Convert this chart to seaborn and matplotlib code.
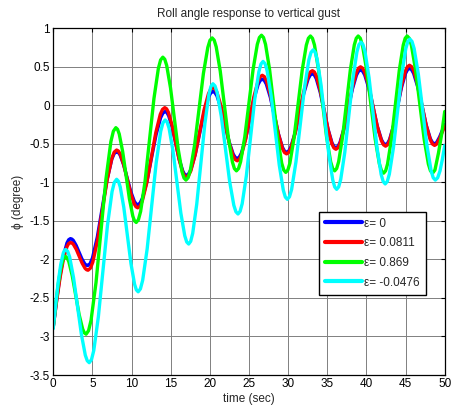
import matplotlib
matplotlib.use("Agg")
import matplotlib.pyplot as plt
import pandas as pd
import seaborn as sns

# Roll angle phi (degree) versus time (sec) for four values of epsilon
labels = ["\u03b5= 0", "\u03b5= 0.0811", "\u03b5= 0.869", "\u03b5= -0.0476"]
colors = ["#0000ff", "#ff0000", "#00ff00", "#00ffff"]

t_eps0 = [0, 0.44, 0.88, 1.32, 1.76, 1.98, 2.2,
          2.383, 2.567, 2.933, 3.3, 3.667, 4.033, 4.217, 4.4,
          4.708, 5.017, 5.633, 6.25, 6.867, 7.483, 7.792, 8.1,
          8.325, 8.55, 9.0, 9.45, 9.9, 10.35, 10.575, 10.8,
          11.092, 11.383, 11.967, 12.55, 13.133, 13.717, 14.008, 14.3,
          14.525, 14.75, 15.2, 15.65, 16.1, 16.55, 16.775, 17.0,
          17.283, 17.567, 18.133, 18.7, 19.267, 19.833, 20.117, 20.4,
          20.658, 20.917, 21.433, 21.95, 22.467, 22.983, 23.242, 23.5,
          23.767, 24.033, 24.567, 25.1, 25.633, 26.167, 26.433, 26.7,
          26.958, 27.217, 27.733, 28.25, 28.767, 29.283, 29.542, 29.8,
          30.075, 30.35, 30.9, 31.45, 32.0, 32.55, 32.825, 33.1,
          33.35, 33.6, 34.1, 34.6, 35.1, 35.6, 35.85, 36.1,
          36.363, 36.625, 37.15, 37.675, 38.2, 38.725, 38.988, 39.25,
          39.517, 39.783, 40.317, 40.85, 41.383, 41.917, 42.183, 42.45,
          42.704, 42.958, 43.467, 43.975, 44.483, 44.992, 45.246, 45.5,
          45.767, 46.033, 46.567, 47.1, 47.633, 48.167, 48.433, 48.7,
          48.95, 49.35, 50.0]
phi_eps0 = [-2.88, -2.525, -2.204, -1.950, -1.786, -1.744, -1.73,
            -1.736, -1.753, -1.818, -1.905, -1.993, -2.057, -2.074, -2.08,
            -2.055, -1.981, -1.71, -1.34, -0.97, -0.699, -0.625, -0.60,
            -0.612, -0.646, -0.773, -0.945, -1.118, -1.244, -1.278, -1.29,
            -1.269, -1.209, -0.988, -0.685, -0.383, -0.161, -0.101, -0.08,
            -0.094, -0.136, -0.288, -0.495, -0.703, -0.854, -0.896, -0.91,
            -0.891, -0.837, -0.638, -0.365, -0.093, 0.107, 0.161, 0.18,
            0.165, 0.122, -0.038, -0.255, -0.473, -0.632, -0.675, -0.69,
            -0.672, -0.621, -0.433, -0.175, 0.083, 0.271, 0.322, 0.34,
            0.324, 0.276, 0.103, -0.135, -0.373, -0.546, -0.594, -0.61,
            -0.593, -0.542, -0.355, -0.10, 0.155, 0.342, 0.393, 0.41,
            0.394, 0.346, 0.17, -0.07, -0.31, -0.486, -0.534, -0.55,
            -0.533, -0.482, -0.298, -0.045, 0.208, 0.392, 0.443, 0.46,
            0.444, 0.395, 0.218, -0.025, -0.268, -0.445, -0.494, -0.51,
            -0.493, -0.444, -0.263, -0.015, 0.233, 0.414, 0.463, 0.48,
            0.463, 0.414, 0.235, -0.01, -0.255, -0.434, -0.483, -0.50,
            -0.485, -0.41, -0.25]

t_eps1 = [0, 0.44, 0.88, 1.32, 1.76, 1.98, 2.2,
          2.388, 2.575, 2.95, 3.325, 3.7, 4.075, 4.263, 4.45,
          4.754, 5.058, 5.667, 6.275, 6.883, 7.492, 7.796, 8.1,
          8.325, 8.55, 9.0, 9.45, 9.9, 10.35, 10.575, 10.8,
          11.088, 11.375, 11.95, 12.525, 13.1, 13.675, 13.963, 14.25,
          14.479, 14.708, 15.167, 15.625, 16.083, 16.542, 16.771, 17.0,
          17.283, 17.567, 18.133, 18.7, 19.267, 19.833, 20.117, 20.4,
          20.658, 20.917, 21.433, 21.95, 22.467, 22.983, 23.242, 23.5,
          23.767, 24.033, 24.567, 25.1, 25.633, 26.167, 26.433, 26.7,
          26.958, 27.217, 27.733, 28.25, 28.767, 29.283, 29.542, 29.8,
          30.075, 30.35, 30.9, 31.45, 32.0, 32.55, 32.825, 33.1,
          33.35, 33.6, 34.1, 34.6, 35.1, 35.6, 35.85, 36.1,
          36.363, 36.625, 37.15, 37.675, 38.2, 38.725, 38.988, 39.25,
          39.517, 39.783, 40.317, 40.85, 41.383, 41.917, 42.183, 42.45,
          42.704, 42.958, 43.467, 43.975, 44.483, 44.992, 45.246, 45.5,
          45.767, 46.033, 46.567, 47.1, 47.633, 48.167, 48.433, 48.7,
          48.95, 49.35, 50.0]
phi_eps1 = [-2.88, -2.540, -2.233, -1.990, -1.834, -1.793, -1.78,
            -1.786, -1.804, -1.87, -1.96, -2.05, -2.116, -2.134, -2.14,
            -2.113, -2.035, -1.75, -1.36, -0.97, -0.685, -0.607, -0.58,
            -0.593, -0.630, -0.768, -0.955, -1.143, -1.28, -1.317, -1.33,
            -1.308, -1.243, -1.005, -0.68, -0.355, -0.117, -0.052, -0.03,
            -0.045, -0.09, -0.255, -0.48, -0.705, -0.87, -0.915, -0.93,
            -0.91, -0.852, -0.64, -0.35, -0.06, 0.152, 0.21, 0.23,
            0.214, 0.166, -0.008, -0.245, -0.483, -0.656, -0.704, -0.72,
            -0.701, -0.646, -0.443, -0.165, 0.113, 0.316, 0.371, 0.39,
            0.373, 0.322, 0.135, -0.12, -0.375, -0.562, -0.613, -0.63,
            -0.612, -0.558, -0.36, -0.09, 0.18, 0.378, 0.432, 0.45,
            0.433, 0.382, 0.195, -0.06, -0.315, -0.502, -0.553, -0.57,
            -0.552, -0.498, -0.303, -0.035, 0.233, 0.427, 0.482, 0.50,
            0.482, 0.431, 0.243, -0.015, -0.273, -0.46, -0.512, -0.53,
            -0.512, -0.46, -0.268, -0.005, 0.258, 0.45, 0.502, 0.52,
            0.502, 0.45, 0.26, 0.0, -0.26, -0.45, -0.502, -0.52,
            -0.505, -0.43, -0.27]

t_eps2 = [0, 0.31, 0.62, 0.93, 1.24, 1.395, 1.55,
          1.771, 1.992, 2.433, 2.875, 3.317, 3.758, 3.979, 4.2,
          4.517, 4.833, 5.467, 6.1, 6.733, 7.367, 7.683, 8.0,
          8.217, 8.433, 8.867, 9.3, 9.733, 10.167, 10.383, 10.6,
          10.883, 11.167, 11.733, 12.3, 12.867, 13.433, 13.717, 14.0,
          14.246, 14.492, 14.983, 15.475, 15.967, 16.458, 16.704, 16.95,
          17.229, 17.508, 18.067, 18.625, 19.183, 19.742, 20.021, 20.3,
          20.558, 20.817, 21.333, 21.85, 22.367, 22.883, 23.142, 23.4,
          23.667, 23.933, 24.467, 25.0, 25.533, 26.067, 26.333, 26.6,
          26.858, 27.117, 27.633, 28.15, 28.667, 29.183, 29.442, 29.7,
          29.963, 30.225, 30.75, 31.275, 31.8, 32.325, 32.588, 32.85,
          33.108, 33.367, 33.883, 34.4, 34.917, 35.433, 35.692, 35.95,
          36.2, 36.45, 36.95, 37.45, 37.95, 38.45, 38.7, 38.95,
          39.221, 39.492, 40.033, 40.575, 41.117, 41.658, 41.929, 42.2,
          42.45, 42.7, 43.2, 43.7, 44.2, 44.7, 44.95, 45.2,
          45.471, 45.742, 46.283, 46.825, 47.367, 47.908, 48.179, 48.45,
          48.75, 49.2, 49.6, 50.0]
phi_eps2 = [-2.88, -2.596, -2.339, -2.136, -2.005, -1.971, -1.96,
            -1.977, -2.028, -2.213, -2.465, -2.718, -2.902, -2.953, -2.97,
            -2.924, -2.79, -2.30, -1.63, -0.96, -0.47, -0.336, -0.29,
            -0.311, -0.372, -0.598, -0.905, -1.213, -1.438, -1.499, -1.52,
            -1.484, -1.376, -0.984, -0.448, 0.089, 0.481, 0.589, 0.625,
            0.598, 0.518, 0.226, -0.173, -0.571, -0.863, -0.943, -0.97,
            -0.939, -0.846, -0.509, -0.048, 0.414, 0.75, 0.844, 0.875,
            0.846, 0.759, 0.444, 0.013, -0.419, -0.734, -0.821, -0.85,
            -0.82, -0.732, -0.41, 0.03, 0.47, 0.792, 0.88, 0.91,
            0.88, 0.791, 0.465, 0.02, -0.425, -0.751, -0.84, -0.87,
            -0.84, -0.751, -0.428, 0.015, 0.458, 0.781, 0.87, 0.90,
            0.87, 0.783, 0.463, 0.025, -0.413, -0.733, -0.82, -0.85,
            -0.82, -0.733, -0.413, 0.025, 0.463, 0.783, 0.87, 0.90,
            0.87, 0.781, 0.455, 0.01, -0.435, -0.761, -0.85, -0.88,
            -0.85, -0.761, -0.435, 0.01, 0.455, 0.781, 0.87, 0.90,
            0.87, 0.781, 0.455, 0.01, -0.435, -0.761, -0.85, -0.88,
            -0.84, -0.62, -0.38, -0.08]

t_eps3 = [0, 0.32, 0.64, 0.96, 1.28, 1.44, 1.6,
          1.85, 2.1, 2.6, 3.1, 3.6, 4.1, 4.35, 4.6,
          4.892, 5.183, 5.767, 6.35, 6.933, 7.517, 7.808, 8.1,
          8.329, 8.558, 9.017, 9.475, 9.933, 10.392, 10.621, 10.85,
          11.138, 11.425, 12.0, 12.575, 13.15, 13.725, 14.013, 14.3,
          14.55, 14.8, 15.3, 15.8, 16.3, 16.8, 17.05, 17.3,
          17.558, 17.817, 18.333, 18.85, 19.367, 19.883, 20.142, 20.4,
          20.667, 20.933, 21.467, 22.0, 22.533, 23.067, 23.333, 23.6,
          23.867, 24.133, 24.667, 25.2, 25.733, 26.267, 26.533, 26.8,
          27.058, 27.317, 27.833, 28.35, 28.867, 29.383, 29.642, 29.9,
          30.175, 30.45, 31.0, 31.55, 32.1, 32.65, 32.925, 33.2,
          33.45, 33.7, 34.2, 34.7, 35.2, 35.7, 35.95, 36.2,
          36.458, 36.717, 37.233, 37.75, 38.267, 38.783, 39.042, 39.3,
          39.558, 39.817, 40.333, 40.85, 41.367, 41.883, 42.142, 42.4,
          42.663, 42.925, 43.45, 43.975, 44.5, 45.025, 45.288, 45.55,
          45.821, 46.092, 46.633, 47.175, 47.717, 48.258, 48.529, 48.8,
          49.1, 49.4, 49.7, 50.0]
phi_eps3 = [-2.90, -2.582, -2.294, -2.067, -1.920, -1.882, -1.87,
            -1.895, -1.968, -2.238, -2.605, -2.973, -3.243, -3.315, -3.34,
            -3.30, -3.181, -2.745, -2.15, -1.555, -1.119, -1.0, -0.96,
            -0.985, -1.058, -1.325, -1.69, -2.055, -2.322, -2.395, -2.42,
            -2.382, -2.271, -1.863, -1.305, -0.748, -0.339, -0.228, -0.19,
            -0.217, -0.298, -0.593, -0.995, -1.398, -1.692, -1.773, -1.80,
            -1.765, -1.661, -1.28, -0.76, -0.24, 0.141, 0.245, 0.28,
            0.251, 0.167, -0.143, -0.565, -0.988, -1.297, -1.381, -1.41,
            -1.376, -1.277, -0.915, -0.42, 0.075, 0.437, 0.536, 0.57,
            0.54, 0.45, 0.123, -0.325, -0.773, -1.1, -1.19, -1.22,
            -1.187, -1.09, -0.735, -0.25, 0.235, 0.59, 0.687, 0.72,
            0.689, 0.599, 0.268, -0.185, -0.638, -0.969, -1.059, -1.09,
            -1.058, -0.962, -0.613, -0.135, 0.343, 0.692, 0.788, 0.82,
            0.789, 0.697, 0.36, -0.10, -0.56, -0.897, -0.989, -1.02,
            -0.988, -0.894, -0.55, -0.08, 0.39, 0.734, 0.828, 0.86,
            0.829, 0.737, 0.403, -0.055, -0.513, -0.847, -0.939, -0.97,
            -0.94, -0.85, -0.70, -0.52]

x_ticks = [0, 5, 10, 15, 20, 25, 30, 35, 40, 45, 50]
y_ticks = [-3.5, -3, -2.5, -2, -1.5, -1, -0.5, 0, 0.5, 1]

sns.set_style("white")
plt.rcParams["font.family"] = ["Liberation Sans", "DejaVu Sans"]

series = [(t_eps0, phi_eps0), (t_eps1, phi_eps1), (t_eps2, phi_eps2), (t_eps3, phi_eps3)]
df = pd.concat(
    [pd.DataFrame({"time": t, "phi": v, "case": lab}) for lab, (t, v) in zip(labels, series)],
    ignore_index=True,
)

fig = plt.figure(figsize=(4.52, 4.13), dpi=100)
ax = fig.add_axes([0.1177, 0.092, 0.8662, 0.8395])

sns.lineplot(data=df, x="time", y="phi", hue="case", hue_order=labels,
             palette=dict(zip(labels, colors)), estimator=None, sort=False,
             linewidth=2.4, legend=False, ax=ax)

ax.set_xlim(0, 50)
ax.set_ylim(-3.5, 1)
ax.set_xticks(x_ticks)
ax.set_yticks(y_ticks)
ax.set_xticklabels([f"{v:g}" for v in x_ticks])
ax.set_yticklabels([f"{v:g}" for v in y_ticks])
ax.grid(True, color="#808080", linewidth=0.7)
ax.set_axisbelow(True)
ax.tick_params(direction="in", top=True, right=True, length=3, width=0.8,
               labelsize=8.5, colors="black", pad=2.5)
for sp in ax.spines.values():
    sp.set_color("black")
    sp.set_linewidth(0.9)

ax.set_title("Roll angle response to vertical gust", fontsize=8.5, pad=8)
ax.set_xlabel("time (sec)", fontsize=8.5, labelpad=2)
ax.set_ylabel("\u03d5 (degree)", fontsize=8.5, labelpad=4)

leg = ax.legend(ax.lines[:4], labels, loc="upper left", bbox_to_anchor=(0.679, 0.471),
                fontsize=8.5, frameon=True, fancybox=False, framealpha=1,
                edgecolor="black", handlelength=3.1, handletextpad=0.25,
                labelspacing=0.65, borderpad=0.5, borderaxespad=0)
leg.get_frame().set_linewidth(1.0)
for h in leg.get_lines():
    h.set_linewidth(3.0)

fig.savefig("out.png", dpi=100)
